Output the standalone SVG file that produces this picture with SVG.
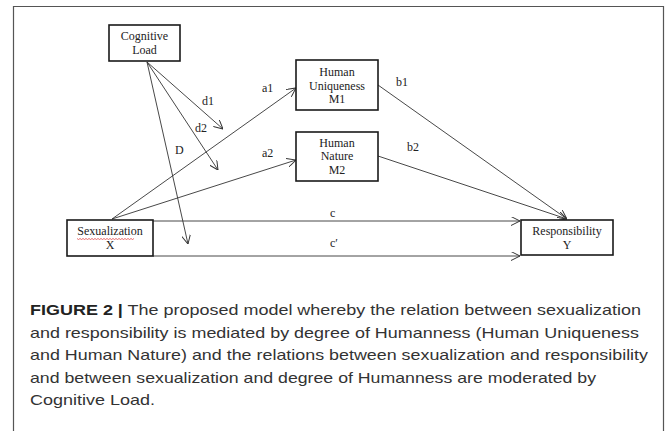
<svg xmlns="http://www.w3.org/2000/svg" width="672" height="431" viewBox="0 0 672 431">
<defs>
<style>
.box{fill:#fff;stroke:#1a1a1a;stroke-width:1.6}
.nt{font-family:"Liberation Serif","Times New Roman",serif;font-size:12px;fill:#222;text-anchor:middle}
.lb{font-family:"Liberation Serif","Times New Roman",serif;font-size:12px;fill:#222}
.ln{stroke:#333;stroke-width:0.9;fill:none}
.cap{font-family:"Liberation Sans",Arial,sans-serif;font-size:15px;fill:#333}
</style>
<marker id="arr" viewBox="0 0 10 10" refX="10" refY="5" markerWidth="9" markerHeight="9" markerUnits="userSpaceOnUse" orient="auto">
<path d="M0,0 L10,5 L0,10" fill="none" stroke="#333" stroke-width="1.1"/>
</marker>
</defs>
<rect width="672" height="431" fill="#fff"/>
<path d="M13.5,431 V6.5 H663.5 V431" fill="none" stroke="#555" stroke-width="1.2"/>

<g id="connectors">
<line class="ln" x1="147" y1="62" x2="223" y2="129" marker-end="url(#arr)"/>
<line class="ln" x1="147" y1="62" x2="218" y2="170" marker-end="url(#arr)"/>
<line class="ln" x1="147" y1="62" x2="188" y2="244" marker-end="url(#arr)"/>
<line class="ln" x1="112" y1="219" x2="296" y2="88" marker-end="url(#arr)"/>
<line class="ln" x1="112" y1="219" x2="296" y2="160" marker-end="url(#arr)"/>
<line class="ln" x1="378" y1="85" x2="567" y2="219" marker-end="url(#arr)"/>
<line class="ln" x1="378" y1="156" x2="567" y2="219" marker-end="url(#arr)"/>
<line class="ln" x1="153" y1="221" x2="520" y2="221" marker-end="url(#arr)"/>
<line class="ln" x1="153" y1="256" x2="520" y2="256" marker-end="url(#arr)"/>
<text class="lb" x="202" y="105">d1</text>
<text class="lb" x="195" y="132">d2</text>
<text class="lb" x="175" y="154">D</text>
<text class="lb" x="262" y="92">a1</text>
<text class="lb" x="262" y="157">a2</text>
<text class="lb" x="396" y="86">b1</text>
<text class="lb" x="407" y="151">b2</text>
<text class="lb" x="330" y="217">c</text>
<text class="lb" x="330" y="247">c′</text>
</g>

<g id="cognitive-load">
<rect class="box" x="109" y="25" width="71" height="36"/>
<text class="nt" x="144.5" y="40">Cognitive</text>
<text class="nt" x="144.5" y="54">Load</text>
</g>

<g id="m1">
<rect class="box" x="296" y="60" width="82" height="50"/>
<text class="nt" x="337" y="76">Human</text>
<text class="nt" x="337" y="90">Uniqueness</text>
<text class="nt" x="337" y="103">M1</text>
</g>

<g id="m2">
<rect class="box" x="296" y="132" width="82" height="49"/>
<text class="nt" x="337" y="147">Human</text>
<text class="nt" x="337" y="160">Nature</text>
<text class="nt" x="337" y="174">M2</text>
</g>

<g id="x">
<rect class="box" x="67" y="220" width="86" height="36"/>
<text class="nt" x="110" y="235">Sexualization</text>
<path d="M77,238.5 l1.5,1 l1.5,-1 l1.5,1 l1.5,-1 l1.5,1 l1.5,-1 l1.5,1 l1.5,-1 l1.5,1 l1.5,-1 l1.5,1 l1.5,-1 l1.5,1 l1.5,-1 l1.5,1 l1.5,-1 l1.5,1 l1.5,-1 l1.5,1 l1.5,-1 l1.5,1 l1.5,-1 l1.5,1 l1.5,-1 l1.5,1 l1.5,-1 l1.5,1 l1.5,-1 l1.5,1 l1.5,-1 l1.5,1 l1.5,-1 l1.5,1 l1.5,-1 l1.5,1 l1.5,-1 l1.5,1 l1.5,-1" fill="none" stroke="#e03030" stroke-width="0.7"/>
<text class="nt" x="110" y="249">X</text>
</g>

<g id="y">
<rect class="box" x="521" y="220" width="92" height="35"/>
<text class="nt" x="567" y="234.5">Responsibility</text>
<text class="nt" x="567" y="248.5">Y</text>
</g>

<g id="caption">
<text class="cap" x="30" y="315" textLength="611" lengthAdjust="spacingAndGlyphs"><tspan font-weight="bold" fill="#222">FIGURE 2 |</tspan> The proposed model whereby the relation between sexualization</text>
<text class="cap" x="30" y="337.5" textLength="609" lengthAdjust="spacingAndGlyphs">and responsibility is mediated by degree of Humanness (Human Uniqueness</text>
<text class="cap" x="30" y="360" textLength="618" lengthAdjust="spacingAndGlyphs">and Human Nature) and the relations between sexualization and responsibility</text>
<text class="cap" x="30" y="382.5" textLength="566" lengthAdjust="spacingAndGlyphs">and between sexualization and degree of Humanness are moderated by</text>
<text class="cap" x="30" y="405" textLength="125" lengthAdjust="spacingAndGlyphs">Cognitive Load.</text>
</g>
</svg>
